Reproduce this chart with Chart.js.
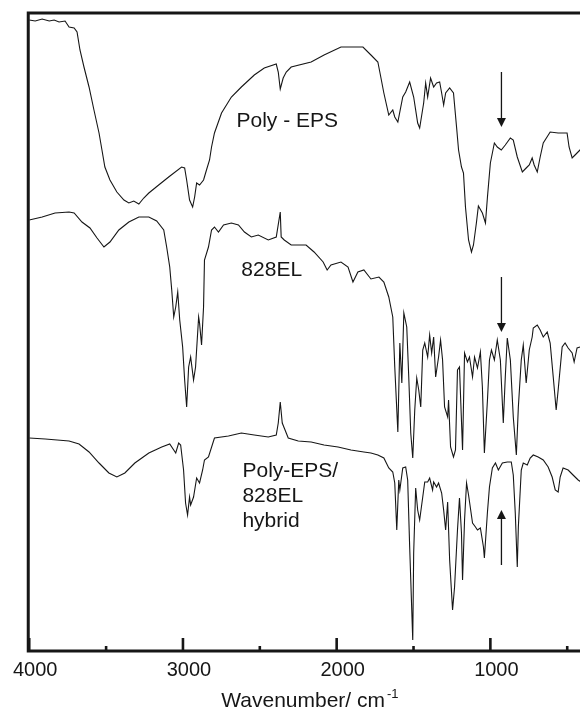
<!DOCTYPE html>
<html>
<head>
<meta charset="utf-8">
<script src="https://cdn.jsdelivr.net/npm/chart.js@4.4.1/dist/chart.umd.min.js"></script>
<style>
  html, body { margin: 0; padding: 0; background: #fff; overflow: hidden; }
  #wrap { width: 600px; height: 711px; }
</style>
</head>
<body>
<div id="wrap"><canvas id="ir" width="600" height="711"></canvas></div>
<script>
// FT-IR spectra (transmittance, arbitrary offset units) vs wavenumber in cm-1

const epsWavenumber = [4000,3961,3916,3870,3838,3806,3767,3741,3708,3689,3670,3644,3611,3579,3546,3527,3508,3475,3430,3384,3352,3320,3287,3255,3222,3158,3093,3009,2989,2976,2957,2937,2924,2911,2892,2866,2847,2827,2814,2795,2749,2685,2620,2536,2471,2393,2380,2367,2348,2328,2296,2166,2082,1972,1829,1777,1732,1713,1693,1661,1635,1622,1602,1570,1551,1525,1499,1473,1460,1434,1421,1408,1389,1369,1350,1330,1317,1304,1291,1265,1240,1220,1207,1188,1175,1162,1142,1123,1110,1091,1078,1052,1032,1019,1000,974,955,929,903,870,851,825,792,767,747,728,715,695,676,656,611,559,501,488,468,449,417,400];
const epsSignal = [631,630,632,630,631,629,630,624,623,619,601,584,564,541,518,501,484,471,459,451,448,450,447,453,458,466,474,484,483,471,451,444,454,468,466,471,481,491,504,518,538,554,564,576,583,587,579,562,573,579,584,589,596,604,604,596,589,574,558,536,541,534,529,554,559,569,554,528,523,548,568,554,573,564,568,569,558,546,558,563,558,524,501,484,478,444,411,399,406,428,445,438,428,454,488,508,504,501,506,513,511,494,479,483,486,493,486,479,494,508,519,518,518,504,493,496,501,503];

const resinWavenumber = [4000,3916,3832,3741,3708,3657,3605,3559,3514,3475,3417,3352,3287,3222,3171,3125,3106,3086,3073,3060,3047,3034,3021,3002,2989,2976,2963,2950,2931,2918,2898,2892,2879,2866,2860,2834,2814,2795,2769,2736,2685,2639,2600,2555,2510,2445,2393,2367,2361,2341,2296,2199,2147,2088,2062,2037,1972,1926,1894,1862,1823,1777,1725,1693,1661,1635,1622,1602,1589,1576,1563,1544,1531,1518,1505,1492,1479,1466,1453,1440,1427,1408,1395,1382,1369,1356,1337,1324,1311,1298,1278,1272,1259,1240,1227,1214,1201,1181,1168,1149,1136,1116,1103,1084,1065,1052,1039,1019,1006,993,974,955,935,916,903,890,870,851,831,818,799,786,767,747,728,721,695,676,656,630,611,591,572,559,533,514,494,468,455,436,417,400];
const resinSignal = [431,434,438,439,438,429,423,413,404,409,421,429,434,434,430,421,404,384,361,334,344,359,331,304,271,244,284,294,271,284,334,328,306,344,391,404,421,424,419,426,428,426,419,414,416,411,414,439,414,411,406,406,399,389,381,386,389,384,369,379,381,372,374,369,354,334,284,219,308,268,338,324,274,218,193,241,273,261,244,301,308,294,316,298,314,274,294,311,291,244,234,251,204,194,201,281,284,201,298,289,294,274,294,283,299,264,198,251,291,301,291,311,291,228,274,313,291,234,196,244,291,306,268,301,314,323,326,321,314,319,308,274,241,261,304,308,303,298,289,303,304,306];

const hybridWavenumber = [4000,3896,3741,3676,3611,3546,3482,3430,3378,3313,3222,3138,3086,3060,3047,3028,3015,2996,2983,2970,2957,2950,2931,2911,2892,2872,2860,2834,2795,2704,2620,2536,2445,2393,2380,2367,2354,2341,2315,2250,2166,2082,1991,1907,1823,1777,1732,1693,1661,1635,1622,1609,1596,1589,1570,1551,1538,1525,1505,1499,1486,1473,1460,1440,1427,1408,1395,1376,1369,1350,1337,1317,1304,1291,1278,1265,1246,1233,1214,1201,1188,1181,1168,1155,1142,1116,1097,1084,1065,1045,1039,1019,1006,987,967,948,922,890,864,851,838,825,818,799,786,760,741,721,689,656,624,598,578,559,546,527,494,462,429,400];
const hybridSignal = [213,212,210,207,199,188,178,174,178,188,198,204,207,201,198,208,206,181,148,136,154,146,154,173,168,181,191,194,213,215,218,216,214,216,228,249,228,223,213,210,209,206,204,201,199,198,196,193,183,179,168,121,171,161,183,184,171,104,11,98,163,141,131,154,169,169,173,161,169,164,168,158,141,121,149,91,41,64,121,153,118,71,131,168,156,128,124,121,123,104,93,139,164,183,188,181,188,189,189,176,138,84,124,181,188,186,193,196,194,191,184,174,161,159,174,183,181,176,171,168];

const seriesNames = ['Poly - EPS', '828EL', ['Poly-EPS/', '828EL', 'hybrid']];
const tickValues = [4000, 3500, 3000, 2500, 2000, 1500, 1000, 500];
const labelledTicks = [4000, 3000, 2000, 1000];

// label anchors (wavenumber, signal of first baseline)
const labelAnchors = [[2652, 524], [2620, 375], [2613, 174]];
// band markers at the epoxide ring: [wavenumber, tail signal, tip signal]
const arrowMarks = [[928, 579, 524], [928, 374, 319], [928, 86, 141]];

const FONT = '"Liberation Sans", Arial, Helvetica, sans-serif';
const INK = '#161616';

const toPoints = (xs, ys) => xs.map((x, i) => ({ x: x, y: ys[i] }));

const decorPlugin = {
  id: 'decor',
  afterDraw(chart) {
    const ctx = chart.ctx;
    const area = chart.chartArea;
    const xs = chart.scales.x;
    const ys = chart.scales.y;
    ctx.save();
    ctx.strokeStyle = INK;
    ctx.fillStyle = INK;

    // frame: left, top and bottom rules (right side runs off the page)
    ctx.lineWidth = 3;
    ctx.lineCap = 'butt';
    ctx.beginPath();
    ctx.moveTo(chart.width + 5, area.top);
    ctx.lineTo(area.left - 1, area.top);
    ctx.lineTo(area.left - 1, area.bottom);
    ctx.lineTo(chart.width + 5, area.bottom);
    ctx.stroke();

    // inward tick marks
    ctx.lineWidth = 2.6;
    tickValues.forEach(v => {
      const px = xs.getPixelForValue(v);
      const len = (v % 1000 === 0) ? 13 : 5;
      ctx.beginPath();
      ctx.moveTo(px, area.bottom);
      ctx.lineTo(px, area.bottom - len);
      ctx.stroke();
    });

    // arrows
    ctx.lineWidth = 1.3;
    arrowMarks.forEach(([wn, from, to]) => {
      const x = xs.getPixelForValue(wn);
      const y0 = ys.getPixelForValue(from);
      const y1 = ys.getPixelForValue(to);
      const dir = Math.sign(y1 - y0);
      ctx.beginPath();
      ctx.moveTo(x, y0);
      ctx.lineTo(x, y1 - dir * 7);
      ctx.stroke();
      ctx.beginPath();
      ctx.moveTo(x, y1);
      ctx.lineTo(x - 4.5, y1 - dir * 9);
      ctx.lineTo(x + 4.5, y1 - dir * 9);
      ctx.closePath();
      ctx.fill();
    });

    // series names
    ctx.font = '21px ' + FONT;
    ctx.textAlign = 'left';
    ctx.textBaseline = 'alphabetic';
    seriesNames.forEach((name, i) => {
      const lines = Array.isArray(name) ? name : [name];
      const x = xs.getPixelForValue(labelAnchors[i][0]);
      const y = ys.getPixelForValue(labelAnchors[i][1]);
      lines.forEach((t, j) => ctx.fillText(t, x, y + j * 25));
    });

    // axis title with superscript unit exponent
    const main = 'Wavenumber/ cm';
    const sup = '-1';
    ctx.font = '21px ' + FONT;
    const wMain = ctx.measureText(main).width;
    ctx.font = '13px ' + FONT;
    const wSup = ctx.measureText(sup).width;
    const cx = (area.left + area.right) / 2 + 4;
    const x0 = cx - (wMain + 2 + wSup) / 2;
    ctx.font = '21px ' + FONT;
    ctx.fillText(main, x0, 707);
    ctx.font = '13px ' + FONT;
    ctx.fillText(sup, x0 + wMain + 2, 698);

    ctx.restore();
  }
};

const lineStyle = { borderColor: INK, borderWidth: 1.1, pointRadius: 0, tension: 0, fill: false };

new Chart(document.getElementById('ir'), {
  type: 'line',
  data: {
    datasets: [
      Object.assign({ label: 'Poly - EPS', data: toPoints(epsWavenumber, epsSignal) }, lineStyle),
      Object.assign({ label: '828EL', data: toPoints(resinWavenumber, resinSignal) }, lineStyle),
      Object.assign({ label: 'Poly-EPS/828EL hybrid', data: toPoints(hybridWavenumber, hybridSignal) }, lineStyle)
    ]
  },
  options: {
    responsive: false,
    animation: false,
    devicePixelRatio: 1,
    layout: { padding: { left: 27, right: 17.4, top: 13, bottom: 0 } },
    plugins: { legend: { display: false }, tooltip: { enabled: false } },
    scales: {
      x: {
        type: 'linear',
        reverse: true,
        min: 400,
        max: 4000,
        afterBuildTicks: s => { s.ticks = tickValues.map(v => ({ value: v })); },
        afterFit: s => { s.height = 60; },
        grid: { display: false, drawTicks: false },
        border: { display: false },
        ticks: {
          padding: 7,
          labelOffset: 6,
          maxRotation: 0,
          autoSkip: false,
          color: INK,
          font: { family: FONT, size: 20 },
          callback: v => labelledTicks.includes(v) ? String(v) : ''
        }
      },
      y: { display: false, min: 0, max: 638 }
    }
  },
  plugins: [decorPlugin]
});
</script>
</body>
</html>
